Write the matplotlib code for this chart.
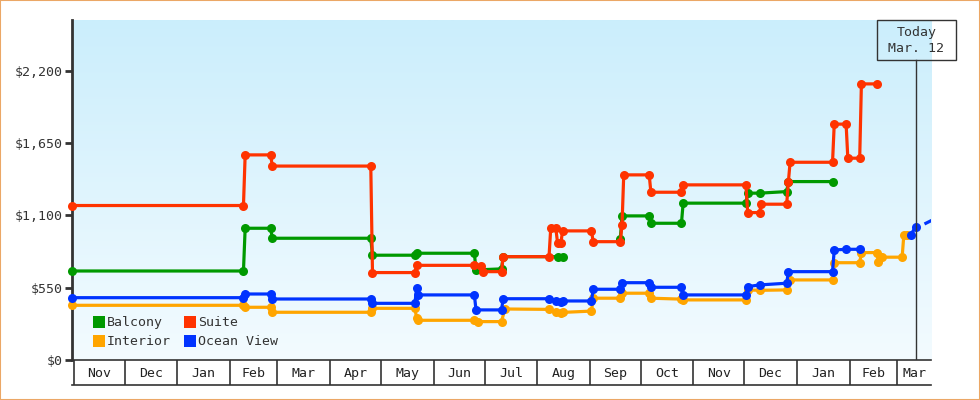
import numpy as np
import pandas as pd
import matplotlib
matplotlib.use("Agg")
import matplotlib.pyplot as plt
from matplotlib.patches import Rectangle
from matplotlib.lines import Line2D
from matplotlib.colors import LinearSegmentedColormap

plt.rcParams['font.family'] = ['DejaVu Sans Mono']

# price history per cabin type (NaN = no price listed)
balcony_dates = ["2012-10-31", "2013-02-09", "2013-02-10", "2013-02-25", "2013-02-26", "2013-04-25",
                 "2013-04-26", "2013-05-21", "2013-05-22", "2013-06-25", "2013-06-26", "2013-07-11",
                 "2013-07-12", "2013-08-13", "2013-08-16", "2013-09-01", "2013-09-19", "2013-09-20",
                 "2013-10-06", "2013-10-07", "2013-10-25", "2013-10-26", "2013-12-02", "2013-12-03",
                 "2013-12-10", "2013-12-26", "2013-12-27", "2014-01-22"]
balcony_prices = [677, 677, 1002, 1002, 926, 926, 797, 797, 812, 812, 685, 693, 786, 786, 786, np.nan,
                  924, 1096, 1096, 1040, 1040, 1193, 1193, 1269, 1269, 1281, 1357, 1357]

suite_dates = ["2012-10-31", "2013-02-09", "2013-02-10", "2013-02-25", "2013-02-26", "2013-04-25",
               "2013-04-26", "2013-05-21", "2013-05-22", "2013-06-25", "2013-06-29", "2013-06-30",
               "2013-07-11", "2013-07-12", "2013-08-08", "2013-08-09", "2013-08-12", "2013-08-13",
               "2013-08-15", "2013-08-16", "2013-09-02", "2013-09-03", "2013-09-19", "2013-09-20",
               "2013-09-21", "2013-10-06", "2013-10-07", "2013-10-25", "2013-10-26", "2013-12-02",
               "2013-12-03", "2013-12-10", "2013-12-11", "2013-12-26", "2013-12-27", "2013-12-28",
               "2014-01-22", "2014-01-23", "2014-01-30", "2014-01-31", "2014-02-07", "2014-02-08",
               "2014-02-17"]
suite_prices = [1175, 1175, 1560, 1560, 1475, 1475, 665, 665, 720, 720, 712, 672, 672, 786, 786,
                1002, 1002, 893, 893, 982, 982, 900, 900, 1030, 1408, 1408, 1276, 1276, 1332, 1332,
                1121, 1121, 1185, 1185, 1357, 1504, 1504, 1794, 1794, 1535, 1535, 2100, 2100]

interior_dates = ["2012-10-31", "2013-02-09", "2013-02-10", "2013-02-25", "2013-02-26", "2013-04-25",
                  "2013-04-26", "2013-05-21", "2013-05-22", "2013-05-23", "2013-06-25", "2013-06-27",
                  "2013-07-11", "2013-07-13", "2013-08-08", "2013-08-12", "2013-08-15", "2013-08-16",
                  "2013-09-02", "2013-09-03", "2013-09-19", "2013-09-20", "2013-10-06", "2013-10-07",
                  "2013-10-25", "2013-10-26", "2013-12-02", "2013-12-03", "2013-12-10", "2013-12-26",
                  "2013-12-28", "2014-01-22", "2014-01-23", "2014-02-07", "2014-02-08", "2014-02-17",
                  "2014-02-18", "2014-02-20", "2014-03-04", "2014-03-05", "2014-03-07"]
interior_prices = [416, 416, 401, 401, 363, 363, 393, 393, 317, 302, 302, 292, 292, 388, 385, 368,
                   360, 362, 372, 470, 470, 508, 508, 470, 463, 457, 457, 533, 530, 533, 609, 609,
                   740, 740, 817, 817, 748, 782, 782, 951, 951]

ocean_dates = ["2012-10-31", "2013-02-09", "2013-02-10", "2013-02-25", "2013-02-26", "2013-04-25",
               "2013-04-26", "2013-05-21", "2013-05-22", "2013-05-23", "2013-06-25", "2013-06-26",
               "2013-07-11", "2013-07-12", "2013-08-08", "2013-08-12", "2013-08-15", "2013-08-16",
               "2013-09-02", "2013-09-03", "2013-09-19", "2013-09-20", "2013-10-06", "2013-10-07",
               "2013-10-25", "2013-10-26", "2013-12-02", "2013-12-03", "2013-12-10", "2013-12-26",
               "2013-12-27", "2014-01-22", "2014-01-23", "2014-01-30", "2014-02-07", "2014-02-20",
               "2014-03-09", "2014-03-12"]
ocean_prices = [474, 474, 502, 502, 464, 464, 431, 431, 546, 495, 495, 381, 381, 466, 466, 452, 444,
                449, 449, 538, 538, 588, 588, 553, 553, 495, 495, 558, 571, 584, 672, 672, 837, 842,
                842, np.nan, 951, 1014]
ocean_future_dates = ["2014-03-18", "2014-03-25"]
ocean_future_prices = [1040, 1085]

series = [
    ("Balcony", balcony_dates, balcony_prices, "#009900"),
    ("Suite", suite_dates, suite_prices, "#ff3300"),
    ("Interior", interior_dates, interior_prices, "#ffa500"),
    ("Ocean View", ocean_dates, ocean_prices, "#0033ff"),
]

y_ticks = [0, 550, 1100, 1650, 2200]
x_start = pd.Timestamp("2012-10-31")
x_end = pd.Timestamp("2014-03-21")
today = pd.Timestamp("2014-03-12")
today_text = "Today\nMar. 12"
months = pd.date_range("2012-11-01", "2014-03-01", freq="MS")

W, H = 980, 400
fig = plt.figure(figsize=(W / 100, H / 100), dpi=100)
pos = [72 / W, 40 / H, 859 / W, 340 / H]

# gradient background behind the plot area
bg = fig.add_axes(pos, zorder=0)
cmap = LinearSegmentedColormap.from_list("sky", ["#f3fbff", "#cbeefc"])
bg.imshow(np.linspace(0, 1, 256).reshape(-1, 1), cmap=cmap, aspect="auto", origin="lower",
          extent=[0, 1, 0, 1])
bg.axis("off")

ax = fig.add_axes(pos, zorder=2)
ax.set_facecolor("none")
for name, d, p, c in series:
    ax.plot(pd.to_datetime(d), p, color=c, lw=2.3, marker="o", ms=6.5, mew=0,
            clip_on=False, zorder=3)
ax.plot(pd.to_datetime(ocean_future_dates), ocean_future_prices, color="#0033ff", lw=2.3, zorder=3)

ax.set_xlim(x_start, x_end)
ax.set_ylim(0, 2586)
ax.set_yticks(y_ticks)
ax.set_yticklabels(["$" + f"{v:,}" for v in y_ticks])
ax.set_xticks([])
ax.tick_params(axis="y", length=5, width=2, color="#333333", labelcolor="#333333",
               labelsize=9.5, pad=1.5)
for s in ["top", "right", "bottom"]:
    ax.spines[s].set_visible(False)
ax.spines["left"].set_linewidth(2)
ax.spines["left"].set_color("#333333")
ax.spines["left"].set_zorder(2)

# today marker
ax.axvline(today, ymin=0, ymax=(360 - 60.3) / 340, color="#333333", lw=1, zorder=4)
fig.patches.append(Rectangle((876.7 / W, 1 - 60.3 / H), 79.6 / W, 40 / H, transform=fig.transFigure,
                             fill=False, edgecolor="#333333", lw=1, zorder=5))
fig.text(916.5 / W, 1 - 40.5 / H, today_text, ha="center", va="center", fontsize=9.5,
         color="#333333", linespacing=1.25)

handles = [Line2D([], [], ls="none", marker="s", ms=8, color=c, mew=0) for _, _, _, c in series]
labels = [n for n, _, _, _ in series]
order = [0, 2, 1, 3]
ax.legend([handles[i] for i in order], [labels[i] for i in order], ncol=2, loc="lower left",
          bbox_to_anchor=(0.011, 0.0), frameon=False, fontsize=9.5, handlelength=0.8,
          handletextpad=0.25, columnspacing=1.0, labelspacing=0.45, labelcolor="#333333")

# month band under the plot
band = fig.add_axes([72 / W, 15 / H, 859 / W, 25 / H], zorder=1)
band.set_xlim(x_start, x_end)
band.set_ylim(0, 1)
band.set_xticks([])
band.set_yticks([])
for s in ["left", "right"]:
    band.spines[s].set_visible(False)
for s in ["top", "bottom"]:
    band.spines[s].set_linewidth(1.2)
    band.spines[s].set_color("#333333")
for i, m in enumerate(months):
    band.axvline(m, color="#333333", lw=1.2)
    nxt = months[i + 1] if i + 1 < len(months) else x_end
    band.text(m + (nxt - m) / 2, 0.45, m.strftime("%b"), ha="center", va="center",
              fontsize=9.5, color="#222222")

fig.patches.append(Rectangle((0, 0), 1, 1, transform=fig.transFigure, fill=False,
                             edgecolor="#eba766", lw=1.5))

fig.savefig("out.png", dpi=100)
